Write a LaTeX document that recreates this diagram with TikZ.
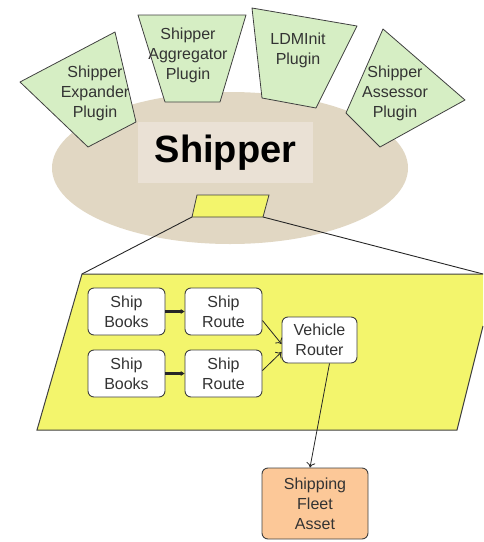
\documentclass[tikz,border=0pt]{standalone}
\usepackage{fontspec}
\setmainfont{Liberation Sans}
\usetikzlibrary{arrows.meta,calc}

\definecolor{plugfill}{HTML}{D6EEC4}
\definecolor{ellfill}{HTML}{E1D7C3}
\definecolor{labfill}{HTML}{EAE1D5}
\definecolor{yel}{HTML}{F3F56C}
\definecolor{peach}{HTML}{FCC898}
\definecolor{edge}{HTML}{404040}
\definecolor{ink}{HTML}{333333}

\tikzset{
  plugin/.style={draw=edge, fill=plugfill, line width=0.8pt, line join=round},
  plugtext/.style={align=center, text=ink, font=\fontsize{16}{20}\selectfont, inner sep=0pt},
  stagebox/.style={draw=edge, fill=white, rounded corners=6pt, line width=0.9pt,
    minimum width=77pt, minimum height=47pt, align=center, text=ink, inner sep=0pt,
    font=\fontsize{16}{20}\selectfont},
  feedarrow/.style={line width=2.4pt, draw=black!85, -{Stealth[length=4pt,width=5pt]}},
  joinarrow/.style={line width=0.8pt, draw=black!85, -{To[length=5pt,width=9pt]}},
  zoomline/.style={line width=0.9pt, draw=black!85},
}

\begin{document}
\begin{tikzpicture}[x=1pt,y=-1pt]
\useasboundingbox (0,0) rectangle (483,542);

% the Shipper component
\fill[ellfill] (230,168) ellipse [x radius=178, y radius=76];
\node[fill=labfill, minimum width=175pt, minimum height=61pt, inner sep=0pt,
      font=\fontsize{38}{40}\bfseries\selectfont] (shipper) at (225.5,152.5) {Shipper};

% plugins around the component
\draw[plugin] (20,82) -- (115,32) -- (136,122) -- (88,147) -- cycle;
\node[plugtext] (expander) at (95,93) {Shipper\\Expander\\Plugin};
\draw[plugin] (138,15) -- (246,15) -- (220,102) -- (165,102) -- cycle;
\node[plugtext] (aggregator) at (188,55) {Shipper\\Aggregator\\Plugin};
\draw[plugin] (252,8) -- (357,26) -- (316,108) -- (262,98) -- cycle;
\node[plugtext] (ldminit) at (298,50) {LDMInit\\Plugin};
\draw[plugin] (383,29) -- (465,100) -- (380,147) -- (346,113) -- cycle;
\node[plugtext] (assessor) at (395,93) {Shipper\\Assessor\\Plugin};

% small detail marker and its zoomed-in view
\coordinate (mtl) at (197,195);
\coordinate (mtr) at (269,195);
\coordinate (mbr) at (263,217);
\coordinate (mbl) at (192,217);
\draw[fill=yel, draw=edge, line width=0.8pt] (mtl) -- (mtr) -- (mbr) -- (mbl) -- cycle;

\coordinate (btl) at (82,274);
\coordinate (btr) at (483,274);
\coordinate (bre) at (483,326);
\coordinate (bbr) at (457,430);
\coordinate (bbl) at (37,430);
\draw[zoomline] (mbl) -- (btl);
\draw[zoomline] (mbr) -- (btr);
\fill[yel] (btl) -- (btr) -- (bre) -- (bbr) -- (bbl) -- cycle;
\draw[draw=edge, line width=1pt] (bre) -- (bbr) -- (bbl) -- (btl) -- (btr);

% processing stages
\node[stagebox] (books1) at (126.5,311.5) {Ship\\Books};
\node[stagebox] (route1) at (223.5,311.5) {Ship\\Route};
\node[stagebox] (books2) at (126.5,373.5) {Ship\\Books};
\node[stagebox] (route2) at (223.5,373.5) {Ship\\Route};
\node[stagebox, minimum width=75pt, minimum height=46pt] (vr) at (319.5,340) {Vehicle\\Router};
\node[stagebox, fill=peach, minimum width=106pt, minimum height=71pt] (sfa) at (315,503.5) {Shipping\\Fleet\\Asset};

\draw[feedarrow] (books1) -- (route1);
\draw[feedarrow] (books2) -- (route2);
\draw[joinarrow] ($(route1.east)+(0,9)$) -- ($(vr.west)+(0,4)$);
\draw[joinarrow] ($(route2.east)+(0,-3)$) -- ($(vr.west)+(0,12)$);
\draw[joinarrow] ($(vr.south)+(10,0)$) -- ($(sfa.north)+(-5,0)$);
\end{tikzpicture}
\end{document}
